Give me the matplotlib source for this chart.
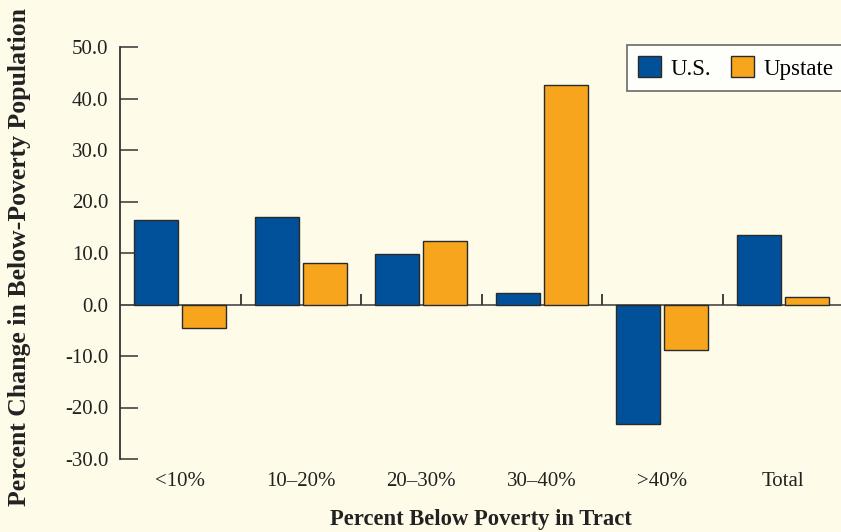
import matplotlib
matplotlib.use("Agg")
import matplotlib.pyplot as plt
import numpy as np

categories = ["<10%", "10\u201320%", "20\u201330%", "30\u201340%", ">40%", "Total"]
us = [16.4, 17.0, 9.8, 2.2, -23.3, 13.5]
upstate = [-4.5, 8.0, 12.3, 42.6, -8.9, 1.4]
yticks = [50, 40, 30, 20, 10, 0, -10, -20, -30]

bg = "#FEFBE8"
blue = "#00519A"
orange = "#F8A51E"
edge = "#2a2a2a"

plt.rcParams["font.family"] = ["Liberation Serif", "DejaVu Serif"]

fig = plt.figure(figsize=(8.41, 5.32), dpi=100, facecolor=bg)
ax = fig.add_axes([120/841, 1-459/532, 723/841, 412/532])
ax.set_facecolor(bg)

x = np.arange(len(categories))
w = 0.365
ax.bar(x - 0.2, us, w, color=blue, edgecolor=edge, linewidth=1.0, label="U.S.", zorder=3)
ax.bar(x + 0.2, upstate, w, color=orange, edgecolor=edge, linewidth=1.0, label="Upstate", zorder=3)

ax.set_xlim(-0.5, 5.5)
ax.set_ylim(-30, 50)

# zero line and small separator ticks between categories
ax.axhline(0, color="#555555", linewidth=1.3, zorder=2)
ax.vlines(x[1:] - 0.5, 0, 2.0, color="#333333", linewidth=1.3, zorder=2)

for s in ["top", "right", "bottom"]:
    ax.spines[s].set_visible(False)
ax.spines["left"].set_color("#333333")
ax.spines["left"].set_linewidth(1.3)

ax.set_yticks(yticks)
ax.set_yticklabels(["%.1f" % v for v in yticks])
ax.tick_params(axis="y", direction="in", length=13, width=1.1, color="#333333",
               labelsize=15, labelcolor="#222222", pad=8.5)
ax.set_xticks(x)
ax.set_xticklabels(categories)
ax.tick_params(axis="x", length=0, labelsize=15, labelcolor="#222222", pad=9.5)

fig.text(20/841, 1-257/532, "Percent Change in Below-Poverty Population", rotation=90,
         ha="center", va="center", fontsize=18.5, fontweight="bold", color="#222222")
fig.text(481/841, 1-519/532, "Percent Below Poverty in Tract",
         ha="center", va="center", fontsize=16.3, fontweight="bold", color="#222222")

leg = ax.legend(loc="upper left", bbox_to_anchor=(627/841, 1-45/532),
                bbox_transform=fig.transFigure, ncol=2, fontsize=16.5,
                frameon=True, fancybox=False, handlelength=1.0, handleheight=1.0,
                columnspacing=0.85, handletextpad=0.42, borderpad=0.5, borderaxespad=0)
leg.get_frame().set_edgecolor("#444444")
leg.get_frame().set_linewidth(1.2)
leg.get_frame().set_facecolor("white")

fig.savefig("out.png", dpi=100, facecolor=bg)
